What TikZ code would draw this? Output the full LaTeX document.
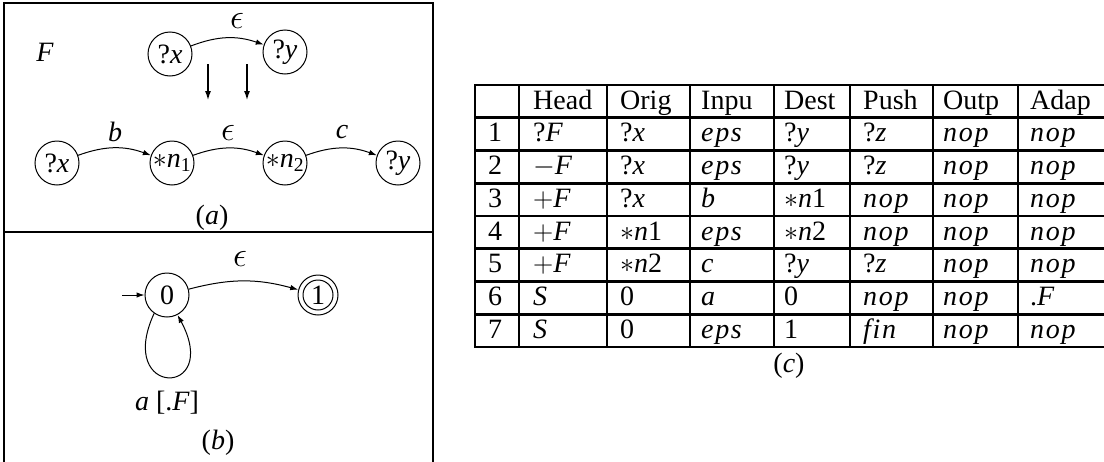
\RequirePackage{fix-cm}
\documentclass[tikz,border=0pt]{standalone}
\usepackage{fontspec}
\setmainfont{Liberation Serif}
\newfontface\spit[LetterSpace=6]{Liberation Serif Italic}
\usetikzlibrary{arrows.meta}

% italic identifiers
\newcommand{\iv}[1]{\textit{#1}}
\newcommand{\mi}[1]{{\spit #1}}

% one table row: index, then the eight cells
\newcommand{\tabrow}[9]{%
  \path ({495},{109+32.75*#1}) node[anchor=base] (r#1c0) {#2}
        ({533},{109+32.75*#1}) node[cell] (r#1c1) {#3}
        ({620},{109+32.75*#1}) node[cell] (r#1c2) {#4}
        ({701},{109+32.75*#1}) node[cell] (r#1c3) {#5}
        ({784},{109+32.75*#1}) node[cell] (r#1c4) {#6}
        ({863},{109+32.75*#1}) node[cell] (r#1c5) {#7}
        ({943},{109+32.75*#1}) node[cell] (r#1c6) {#8}
        ({1030},{109+32.75*#1}) node[cell] (r#1c7) {#9};}

\begin{document}
\begin{tikzpicture}[x=1pt,y=-1pt,
  every node/.style={font=\fontsize{28}{32}\selectfont, inner sep=0pt},
  state/.style={draw, circle, line width=1pt, minimum size=44pt},
  edge/.style={-{Latex[length=8pt,width=5.5pt]}, line width=1pt},
  down/.style={-{Latex[length=10pt,width=6pt]}, line width=2pt},
  frame/.style={line width=2.8pt},
  grid/.style={line width=2.8pt, line cap=rect},
  cell/.style={anchor=base west},
  eps/.style={scale=1.25}]
\useasboundingbox (0,0) rectangle (1104,461);

% panel frames
\draw[frame] (4,3) rectangle (433,232);
\draw[frame] (4,232) rectangle (433,466);

% (a): the rule F and its expansion
\node (lblF) at (45,52) {\iv{F}};
\node[state] (tx) at (170,54) {?\iv{x}};
\node[state] (ty) at (285,52) {?\iv{y}};
\draw[edge] (tx) to[bend left=20] (ty);
\node[eps] (e1) at (237,21) {$\epsilon$};

\coordinate (d1s) at (208,64); \coordinate (d1e) at (208,101);
\coordinate (d2s) at (247,64); \coordinate (d2e) at (247,101);
\draw[down] (d1s) -- (d1e);
\draw[down] (d2s) -- (d2e);

\node[state] (bx) at (57,163) {?\iv{x}};
\node[state] (bn1) at (172,163) {$\ast$\iv{n}\textsubscript{1}};
\node[state] (bn2) at (285,163) {$\ast$\iv{n}\textsubscript{2}};
\node[state] (by) at (398,163) {?\iv{y}};
\draw[edge] (bx) to[bend left=20] (bn1);
\draw[edge] (bn1) to[bend left=20] (bn2);
\draw[edge] (bn2) to[bend left=20] (by);
\node (lb) at (115,132) {\iv{b}};
\node[eps] (e2) at (228,133) {$\epsilon$};
\node (lc) at (342,132) {\iv{c}};
\node (capa) at (212,218) {(\iv{a})};

% (b): the automaton
\node[state] (zero) at (167,295) {0};
\node[state, minimum size=40pt] (one) at (318,295) {1};
\draw[line width=1pt] (one.center) circle (15pt);
\coordinate (start) at (122,295);
\draw[edge] (start) -- (zero);
\draw[edge] (zero) to[bend left=15] (one);
\node[eps] (e3) at (240,259) {$\epsilon$};
\draw[edge] (zero.235) .. controls (115,398) and (222,398) .. (zero.-62);
\node (loop) at (167,403) {\iv{a} [.\iv{F}]};
\node (capb) at (218,443) {(\iv{b})};

% (c): the table
\foreach \x in {475,519,607,690,774,850,933,1018,1105}
  \draw[grid] (\x,85) -- (\x,347);
\foreach \i in {0,...,8}
  \draw[grid] (475,{85+32.75*\i}) -- (1105,{85+32.75*\i});

\tabrow{0}{}{Head}{Orig}{Inpu}{Dest}{Push}{Outp}{Adap}
\tabrow{1}{1}{?\iv{F}}{?\iv{x}}{\mi{eps}}{?\iv{y}}{?\iv{z}}{\mi{nop}}{\mi{nop}}
\tabrow{2}{2}{$-$\iv{F}}{?\iv{x}}{\mi{eps}}{?\iv{y}}{?\iv{z}}{\mi{nop}}{\mi{nop}}
\tabrow{3}{3}{$+$\iv{F}}{?\iv{x}}{\iv{b}}{$\ast$\iv{n}1}{\mi{nop}}{\mi{nop}}{\mi{nop}}
\tabrow{4}{4}{$+$\iv{F}}{$\ast$\iv{n}1}{\mi{eps}}{$\ast$\iv{n}2}{\mi{nop}}{\mi{nop}}{\mi{nop}}
\tabrow{5}{5}{$+$\iv{F}}{$\ast$\iv{n}2}{\iv{c}}{?\iv{y}}{?\iv{z}}{\mi{nop}}{\mi{nop}}
\tabrow{6}{6}{\iv{S}}{0}{\iv{a}}{0}{\mi{nop}}{\mi{nop}}{.\iv{F}}
\tabrow{7}{7}{\iv{S}}{0}{\mi{eps}}{1}{\mi{fin}}{\mi{nop}}{\mi{nop}}
\node (capc) at (789,366) {(\iv{c})};
\end{tikzpicture}
\end{document}
